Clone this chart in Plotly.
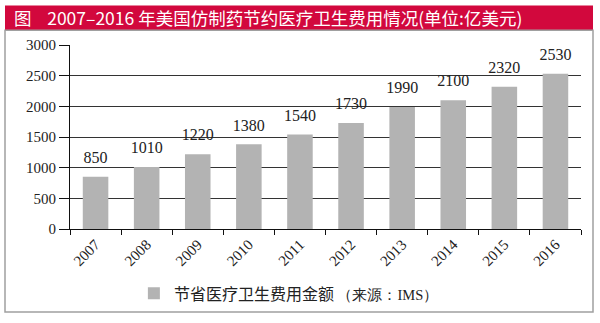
import plotly.graph_objects as go

years = ["2007", "2008", "2009", "2010", "2011", "2012", "2013", "2014", "2015", "2016"]
savings = [850, 1010, 1220, 1380, 1540, 1730, 1990, 2100, 2320, 2530]
y_ticks = [0, 500, 1000, 1500, 2000, 2500, 3000]
series_name = "节省医疗卫生费用金额"
source_note = "（来源：IMS）"
title_text = "图&nbsp;&nbsp;&nbsp;&nbsp;2007–2016 年美国仿制药节约医疗卫生费用情况(单位:亿美元)"

W, H = 600, 323
L, R, T, B = 70, 19, 45, 92

serif = "Liberation Serif, Times New Roman, serif"
cjk = "Noto Sans CJK SC"

fig = go.Figure()
fig.add_trace(go.Bar(
    x=years, y=savings,
    name=series_name + " <span style='font-size:14.5px;font-family:Liberation Serif'>" + source_note + "</span>",
    marker=dict(color="#b3b3b3", line=dict(width=0)),
    width=0.5,
))
fig.add_trace(go.Scatter(
    x=years, y=savings, mode="markers+text", text=[str(v) for v in savings],
    textposition="top center", showlegend=False, hoverinfo="skip",
    marker=dict(size=14, opacity=0),
    textfont=dict(family=serif, size=16, color="#222"), cliponaxis=False,
))

fig.update_layout(
    width=W, height=H,
    margin=dict(l=L, r=R, t=T, b=B),
    paper_bgcolor="white", plot_bgcolor="white",
    showlegend=True,
    legend=dict(orientation="h", x=0.125, xanchor="left", y=-0.35, yanchor="middle",
                font=dict(family=cjk, size=16, color="#222")),
    xaxis=dict(type="category", range=[-0.5, len(years) - 0.5],
               showline=True, linecolor="#111", linewidth=1,
               ticks="outside", ticklen=5, tickcolor="#111",
               tickangle=-45, tickfont=dict(family=serif, size=15, color="#222"),
               showgrid=False, tickson="boundaries"),
    yaxis=dict(range=[0, 3000], tickvals=y_ticks, showline=True, linecolor="#111", linewidth=1,
               ticks="outside", ticklen=10, tickcolor="#111",
               tickfont=dict(family=serif, size=15, color="#222"),
               showgrid=True, gridcolor="#333", gridwidth=1, zeroline=False),
)

# title band
fig.add_shape(type="rect", xref="paper", yref="paper",
              x0=-(L - 5) / (W - L - R), x1=1 + (593 - (W - R)) / (W - L - R),
              y0=1 + (T - 30) / (H - T - B), y1=1 + (T - 5) / (H - T - B),
              fillcolor="#d2083d", line=dict(width=0), layer="below")
# frame
fig.add_shape(type="rect", xref="paper", yref="paper",
              x0=-(L - 5) / (W - L - R), x1=1 + (593 - (W - R)) / (W - L - R),
              y0=-(315 - (H - B)) / (H - T - B), y1=1 + (T - 30) / (H - T - B),
              fillcolor="rgba(0,0,0,0)", line=dict(width=1.5, color="#a0a0a0"), layer="below")
fig.add_annotation(text=title_text, xref="paper", yref="paper",
                   x=-(L - 12) / (W - L - R), y=1 + (T - 17.5) / (H - T - B),
                   xanchor="left", yanchor="middle", showarrow=False,
                   font=dict(family=cjk, size=17.5, color="white"))

fig.write_html("out.html")
